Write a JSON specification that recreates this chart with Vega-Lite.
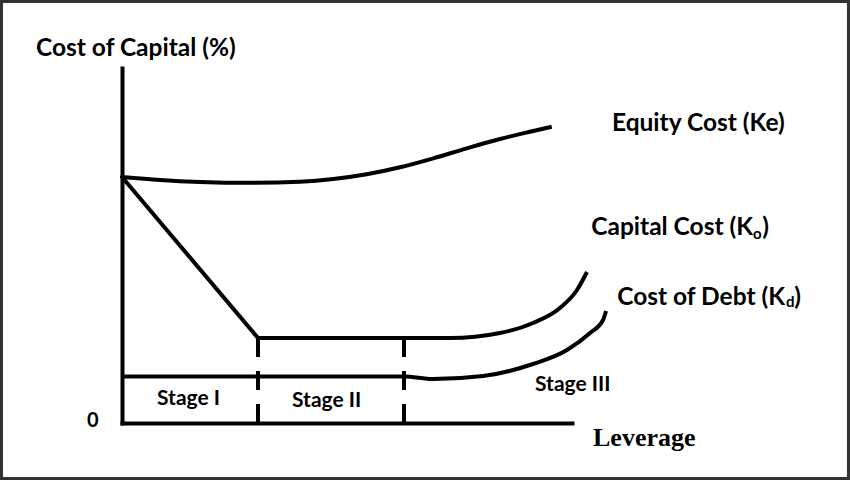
{
  "$schema": "https://vega.github.io/schema/vega-lite/v6.json",
  "width": 450,
  "height": 355,
  "autosize": {"type": "none"},
  "padding": {"left": 122, "top": 68, "right": 278, "bottom": 57},
  "background": "white",
  "config": {
    "view": {"stroke": null},
    "axis": {"labels": false, "ticks": false, "grid": false, "domainColor": "black", "domainWidth": 4, "domainCap": "square", "zindex": 1}
  },
  "datasets": {
    "frame": [{"x": -2.678, "x2": 16.144, "y": 11.873, "y2": -1.563}],
    "straight": [
      {"series": "Ko", "x": 0, "y": 6.93},
      {"series": "Ko", "x": 3.022, "y": 2.394}
    ],
    "curves": [
      {"series": "Ke", "x": 0, "y": 6.93},
      {"series": "Ke", "x": 0.844, "y": 6.845},
      {"series": "Ke", "x": 1.733, "y": 6.789},
      {"series": "Ke", "x": 2.844, "y": 6.765},
      {"series": "Ke", "x": 3.956, "y": 6.797},
      {"series": "Ke", "x": 4.696, "y": 6.873},
      {"series": "Ke", "x": 5.438, "y": 7.006},
      {"series": "Ke", "x": 6.178, "y": 7.203},
      {"series": "Ke", "x": 6.918, "y": 7.456},
      {"series": "Ke", "x": 7.66, "y": 7.738},
      {"series": "Ke", "x": 8.4, "y": 8.0},
      {"series": "Ke", "x": 9.14, "y": 8.225},
      {"series": "Ke", "x": 9.549, "y": 8.346},
      {"series": "Ko", "x": 3.022, "y": 2.394},
      {"series": "Ko", "x": 6.289, "y": 2.394},
      {"series": "Ko", "x": 7.289, "y": 2.394},
      {"series": "Ko", "x": 8.4, "y": 2.535},
      {"series": "Ko", "x": 9.133, "y": 2.817},
      {"series": "Ko", "x": 9.733, "y": 3.239},
      {"series": "Ko", "x": 10.111, "y": 3.746},
      {"series": "Ko", "x": 10.333, "y": 4.254},
      {"series": "Kd", "x": 0, "y": 1.31},
      {"series": "Kd", "x": 6.267, "y": 1.31},
      {"series": "Kd", "x": 6.911, "y": 1.239},
      {"series": "Kd", "x": 8.022, "y": 1.324},
      {"series": "Kd", "x": 9.133, "y": 1.662},
      {"series": "Kd", "x": 9.889, "y": 2.056},
      {"series": "Kd", "x": 10.4, "y": 2.535},
      {"series": "Kd", "x": 10.689, "y": 2.901},
      {"series": "Kd", "x": 10.756, "y": 3.155}
    ],
    "dashes": [
      {"x": 3.022, "y": 2.394, "y2": 0},
      {"x": 6.267, "y": 2.394, "y2": 0}
    ],
    "labels": [
      {"text": "Cost of Capital (%)", "x": -1.911, "y": 10.535},
      {"text": "Equity Cost (Ke)", "x": 10.889, "y": 8.423}
    ],
    "labelsRight": [
      {"text": "Capital Cost (K", "x": 14.022, "y": 5.493},
      {"text": "Cost of Debt (K", "x": 14.733, "y": 3.521}
    ],
    "closers": [
      {"text": ")", "x": 14.227, "y": 5.493},
      {"text": ")", "x": 14.937, "y": 3.521}
    ],
    "subs": [
      {"text": "o", "x": 14.022, "y": 5.32},
      {"text": "d", "x": 14.756, "y": 3.42}
    ],
    "stages": [
      {"text": "Stage I", "x": 0.778, "y": 0.662},
      {"text": "Stage II", "x": 3.778, "y": 0.62},
      {"text": "Stage III", "x": 9.178, "y": 1.07}
    ],
    "xtitle": [{"text": "Leverage", "x": 10.467, "y": -0.423}]
  },
  "layer": [
    {
      "data": {"name": "frame"},
      "mark": {"type": "rect", "filled": false, "stroke": "#333333", "strokeWidth": 3},
      "encoding": {
        "x": {"field": "x", "type": "quantitative", "title": null,
              "scale": {"domain": [0, 10], "nice": false, "zero": false},
              "axis": {"title": null, "labels": false, "ticks": false, "grid": false, "domainColor": "black", "domainWidth": 4, "domainCap": "square", "zindex": 1}},
        "x2": {"field": "x2"},
        "y": {"field": "y", "type": "quantitative", "title": null,
              "scale": {"domain": [0, 10], "nice": false, "zero": false},
              "axis": {"title": null, "values": [0], "labels": true, "ticks": false, "grid": false, "domainColor": "black", "domainWidth": 4, "domainCap": "square", "zindex": 1,
                       "labelFont": "Lato", "labelFontWeight": "bold", "labelFontSize": 20, "labelColor": "black", "labelPadding": 24, "labelOffset": -3}},
        "y2": {"field": "y2"}
      }
    },
    {
      "data": {"name": "curves"},
      "mark": {"type": "line", "interpolate": "monotone", "color": "black", "strokeWidth": 4},
      "encoding": {
        "x": {"field": "x", "type": "quantitative", "title": null},
        "y": {"field": "y", "type": "quantitative", "title": null},
        "detail": {"field": "series"}
      }
    },
    {
      "data": {"name": "straight"},
      "mark": {"type": "line", "color": "black", "strokeWidth": 4, "strokeCap": "round"},
      "encoding": {
        "x": {"field": "x", "type": "quantitative", "title": null},
        "y": {"field": "y", "type": "quantitative", "title": null},
        "detail": {"field": "series"}
      }
    },
    {
      "data": {"name": "dashes"},
      "mark": {"type": "rule", "color": "black", "strokeWidth": 4, "strokeDash": [19, 14]},
      "encoding": {
        "x": {"field": "x", "type": "quantitative", "title": null},
        "y": {"field": "y", "type": "quantitative", "title": null},
        "y2": {"field": "y2"}
      }
    },
    {
      "data": {"name": "labels"},
      "mark": {"type": "text", "font": "Lato", "fontWeight": "bold", "fontSize": 24.5, "align": "left", "baseline": "middle", "color": "black"},
      "encoding": {
        "x": {"field": "x", "type": "quantitative", "title": null},
        "y": {"field": "y", "type": "quantitative", "title": null},
        "text": {"field": "text"}
      }
    },
    {
      "data": {"name": "labelsRight"},
      "mark": {"type": "text", "font": "Lato", "fontWeight": "bold", "fontSize": 24.5, "align": "right", "baseline": "middle", "color": "black"},
      "encoding": {
        "x": {"field": "x", "type": "quantitative", "title": null},
        "y": {"field": "y", "type": "quantitative", "title": null},
        "text": {"field": "text"}
      }
    },
    {
      "data": {"name": "closers"},
      "mark": {"type": "text", "font": "Lato", "fontWeight": "bold", "fontSize": 24.5, "align": "left", "baseline": "middle", "color": "black"},
      "encoding": {
        "x": {"field": "x", "type": "quantitative", "title": null},
        "y": {"field": "y", "type": "quantitative", "title": null},
        "text": {"field": "text"}
      }
    },
    {
      "data": {"name": "subs"},
      "mark": {"type": "text", "font": "Lato", "fontWeight": "bold", "fontSize": 15, "align": "left", "baseline": "middle", "color": "black"},
      "encoding": {
        "x": {"field": "x", "type": "quantitative", "title": null},
        "y": {"field": "y", "type": "quantitative", "title": null},
        "text": {"field": "text"}
      }
    },
    {
      "data": {"name": "stages"},
      "mark": {"type": "text", "font": "Lato", "fontWeight": "bold", "fontSize": 21, "align": "left", "baseline": "middle", "color": "black"},
      "encoding": {
        "x": {"field": "x", "type": "quantitative", "title": null},
        "y": {"field": "y", "type": "quantitative", "title": null},
        "text": {"field": "text"}
      }
    },
    {
      "data": {"name": "xtitle"},
      "mark": {"type": "text", "font": "Liberation Serif", "fontWeight": "bold", "fontSize": 26, "align": "left", "baseline": "middle", "color": "black"},
      "encoding": {
        "x": {"field": "x", "type": "quantitative", "title": null},
        "y": {"field": "y", "type": "quantitative", "title": null},
        "text": {"field": "text"}
      }
    }
  ]
}
